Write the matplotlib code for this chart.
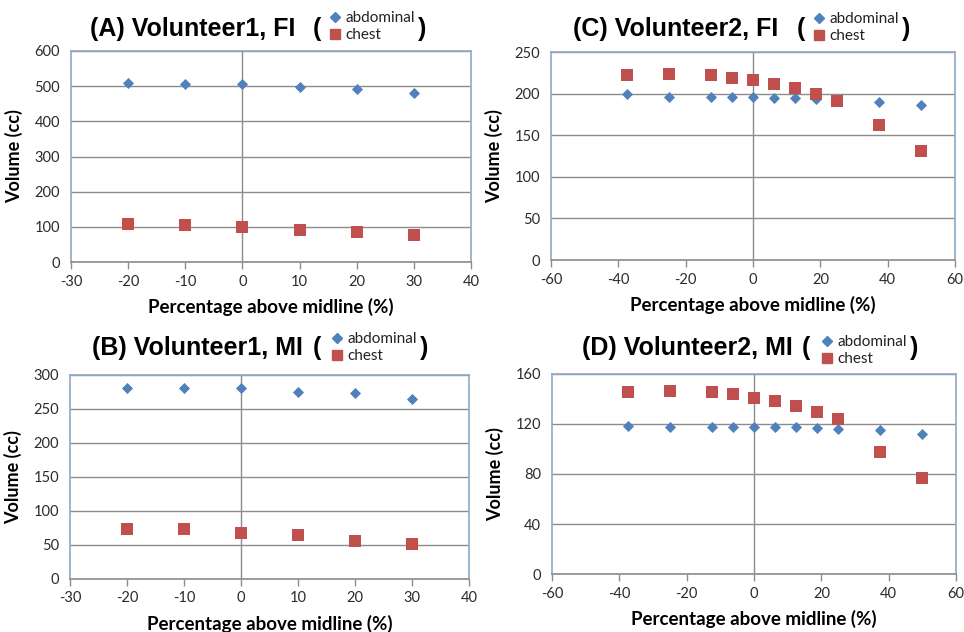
import matplotlib
matplotlib.use("Agg")
import matplotlib.pyplot as plt
from matplotlib.lines import Line2D

plt.rcParams['font.family'] = ['Lato', 'DejaVu Sans']
plt.rcParams['axes.unicode_minus'] = False

# ---- data ----
x_v1 = [-20, -10, 0, 10, 20, 30]
a_abd = [510, 507, 507, 498, 492, 480]
a_chest = [108, 104, 100, 92, 86, 77]
b_abd = [281, 281, 281, 275, 273, 265]
b_chest = [73, 73, 68, 64, 56, 52]

x_v2 = [-37.5, -25, -12.5, -6.25, 0, 6.25, 12.5, 18.75, 25, 37.5, 50]
c_abd = [199, 196, 196, 196, 196, 195, 195, 193, 192, 190, 186]
c_chest = [222, 224, 222, 219, 216, 212, 207, 200, 191, 162, 131]
d_abd = [118.7, 117.9, 117.9, 117.9, 117.9, 117.9, 117.9, 117.1, 116.1, 115.5, 112.1]
d_chest = [145.4, 146.2, 145.4, 143.8, 140.6, 138.7, 134.7, 129.7, 124.1, 97.4, 76.9]

series_labels = ["abdominal", "chest"]
titles = ["(A) Volunteer1, FI", "(B) Volunteer1, MI",
          "(C) Volunteer2, FI", "(D) Volunteer2, MI"]
xlabel = "Percentage above midline (%)"
ylabel = "Volume (cc)"

BLUE = "#4F81BD"
RED = "#C0504D"
GRID = "#8C8C8C"
BORDER = "#8EA9C9"

W, H = 964, 632
fig = plt.figure(figsize=(W / 100, H / 100), dpi=100)

def px_rect(l, t, r, b):
    return [l / W, 1 - b / H, (r - l) / W, (b - t) / H]

panels = [
    # rect, x, abd, chest, xlim, xticks, ylim, yticks, title, (title x, title y), open paren x, legend (x,y), close paren x
    (px_rect(71, 51, 471, 262), x_v1, a_abd, a_chest, (-30, 40), range(-30, 41, 10),
     (0, 600), range(0, 601, 100), titles[0], (90, 29), 313, (329, 11), 418),
    (px_rect(70, 375, 469, 579), x_v1, b_abd, b_chest, (-30, 40), range(-30, 41, 10),
     (0, 300), range(0, 301, 50), titles[1], (92, 348), 313, (331, 332), 420),
    (px_rect(551, 52, 955, 260), x_v2, c_abd, c_chest, (-60, 60), range(-60, 61, 20),
     (0, 250), range(0, 251, 50), titles[2], (573, 29), 797, (813, 12), 902),
    (px_rect(552, 374, 956, 574), x_v2, d_abd, d_chest, (-60, 60), range(-60, 61, 20),
     (0, 160), range(0, 161, 40), titles[3], (582, 348), 802, (821, 335), 910),
]

TFONT = dict(fontsize=18, fontweight="bold", family="Liberation Sans", va="center", ha="left")

for rect, xs, abd, chest, xlim, xticks, ylim, yticks, title, tpos, opx, lpos, cpx in panels:
    ax = fig.add_axes(rect)
    ax.set_xlim(*xlim)
    ax.set_ylim(*ylim)
    ax.set_xticks(list(xticks))
    ax.set_yticks(list(yticks))
    ax.yaxis.grid(True, color=GRID, linewidth=1.0)
    ax.set_axisbelow(True)
    ax.axvline(0, color=GRID, linewidth=1.0, zorder=1)
    for s in ("left", "right", "top"):
        ax.spines[s].set_color(BORDER)
        ax.spines[s].set_linewidth(1.2)
    ax.spines["bottom"].set_color(GRID)
    ax.spines["bottom"].set_linewidth(1.2)
    ax.tick_params(axis="y", length=0, labelsize=10.5, colors="#2b2b2b", pad=8)
    ax.tick_params(axis="x", length=5, width=1, color=GRID, direction="out",
                   labelsize=10.5, labelcolor="#2b2b2b", pad=4)
    ax.scatter(xs, abd, marker="D", s=32, color=BLUE, zorder=3, linewidths=0)
    ax.scatter(xs, chest, marker="s", s=80, color=RED, zorder=3, linewidths=0)
    ax.set_xlabel(xlabel, fontsize=13.5, fontweight="bold", labelpad=7)
    ax.set_ylabel(ylabel, fontsize=13, fontweight="bold", labelpad=8)

    ty = 1 - tpos[1] / H
    fig.text(tpos[0] / W, ty, title, **TFONT)
    fig.text(opx / W, ty, "(", **TFONT)
    fig.text(cpx / W, ty, ")", **TFONT)
    handles = [Line2D([], [], marker="D", color=BLUE, linestyle="none", markersize=5),
               Line2D([], [], marker="s", color=RED, linestyle="none", markersize=7.5)]
    fig.legend(handles, series_labels, loc="upper left",
               bbox_to_anchor=(lpos[0] / W, 1 - lpos[1] / H), frameon=False,
               fontsize=11, handlelength=0.8, handletextpad=0.25, labelspacing=0.2,
               borderpad=0, borderaxespad=0, labelcolor="#222222")

fig.savefig("out.png", dpi=100)
